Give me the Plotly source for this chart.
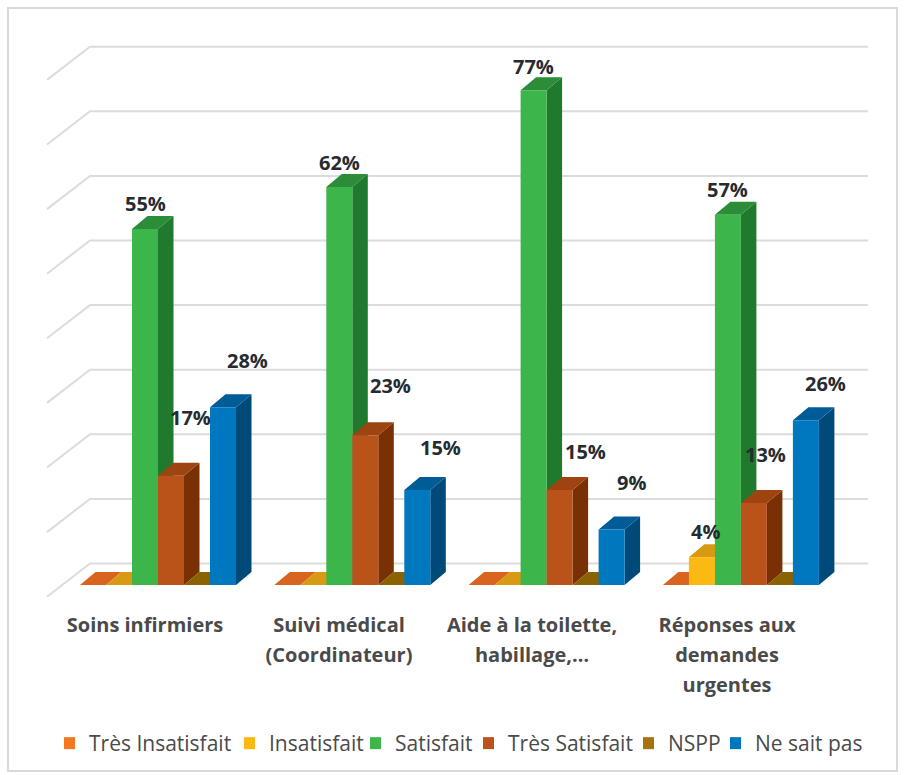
import plotly.graph_objects as go

categories = ["Soins infirmiers", "Suivi médical<br>(Coordinateur)", "Aide à la toilette,<br>habillage,…", "Réponses aux<br>demandes<br>urgentes"]
series_names = ["Très Insatisfait", "Insatisfait", "Satisfait", "Très Satisfait", "NSPP", "Ne sait pas"]
tres_insatisfait = [0, 0, 0, 0]
insatisfait = [0, 0, 0, 4.3]
satisfait = [55.1, 61.6, 76.6, 57.3]
tres_satisfait = [16.9, 23.2, 14.7, 12.7]
nspp = [0, 0, 0, 0]
ne_sait_pas = [27.5, 14.7, 8.6, 25.5]
grid_values = [0, 10, 20, 30, 40, 50, 60, 70, 80]

front_colors = ["#F47721", "#FDB913", "#3CB54A", "#B9531A", "#A5720E", "#0078BF"]
top_colors = ["#D9641F", "#D89A12", "#2D8C38", "#9E4410", "#8B6200", "#005C96"]
side_colors = ["#B04F12", "#B08008", "#1F7A2E", "#7A3005", "#6E4E00", "#004A7A"]
all_series = [tres_insatisfait, insatisfait, satisfait, tres_satisfait, nspp, ne_sait_pas]

W, H = 906, 775
PLOT_BOTTOM = 608
PX_PER_UNIT_Y = 6.46
ZERO_PX = 585
PITCH = 194.3
ORIGIN_PX = 158
BAR = 26 / PITCH
DX = 15.5 / PITCH
DY = 13 / PX_PER_UNIT_Y
LEGEND_TEXT_PX = [89, 269, 395, 508, 668, 755]


def ux(px):
    return (px - ORIGIN_PX) / PITCH


fig = go.Figure()

# gridlines (floor-to-wall perspective)
gx, gy = [], []
for v in grid_values:
    gx += [ux(47), ux(90), ux(868), None]
    gy += [v - 1.81, v + 3.33, v + 3.33, None]
fig.add_trace(go.Scatter(x=gx, y=gy, mode="lines", line=dict(color="#DCDCDC", width=2),
                         hoverinfo="skip", showlegend=False, zorder=0))

for i, (name, vals) in enumerate(zip(series_names, all_series)):
    lefts = [g + (i - 3) * BAR for g in range(len(vals))]
    sx, sy, tx, ty = [], [], [], []
    for l, v in zip(lefts, vals):
        r = l + BAR
        sx += [r, r + DX, r + DX, r, r, None]
        sy += [0, DY, v + DY, v, 0, None]
        tx += [l, r, r + DX, l + DX, l, None]
        ty += [v, v, v + DY, v + DY, v, None]
    fig.add_trace(go.Scatter(x=sx, y=sy, mode="lines", fill="toself", fillcolor=side_colors[i],
                             line=dict(width=0), hoverinfo="skip", showlegend=False, zorder=2 * i + 1))
    fig.add_trace(go.Scatter(x=tx, y=ty, mode="lines", fill="toself", fillcolor=top_colors[i],
                             line=dict(width=0), hoverinfo="skip", showlegend=False, zorder=2 * i + 1))
    fig.add_trace(go.Bar(x=[l + BAR / 2 for l in lefts], y=vals, width=BAR, name=name,
                         legend="legend" if i == 0 else f"legend{i + 1}",
                         marker=dict(color=front_colors[i], line=dict(width=0)), zorder=2 * i + 2))

# data labels: (series index, group index, xshift, yshift)
label_shifts = [
    (2, 0, 0, 26), (2, 1, 0, 25), (2, 2, 0, 24), (2, 3, 0, 25),
    (3, 0, 19, 58), (3, 1, 25, 50), (3, 2, 26, 39), (3, 3, 12, 48),
    (5, 0, 24, 47), (5, 1, 23, 43), (5, 2, 20, 47), (5, 3, 20, 37),
    (1, 3, 4, 26),
]
for s, g, xs, ys in label_shifts:
    v = all_series[s][g]
    fig.add_annotation(x=g + (s - 3) * BAR + BAR / 2, y=v, xref="x", yref="y", text=f"{v:.0f}%",
                       showarrow=False, xshift=xs, yshift=ys, xanchor="center", yanchor="middle",
                       font=dict(family="Open Sans", size=20, color="#262B30", weight="bold"))

tick_px = [145, 339, 532, 727]
ticktext = [f'<span style="font-size:20px;font-weight:bold">{c}</span>' for c in categories]
fig.update_xaxes(range=[ux(0), ux(W)], tickmode="array", tickvals=[ux(p) for p in tick_px], ticktext=ticktext,
                 showgrid=False, zeroline=False, showline=False, ticks="", ticklen=0,
                 tickfont=dict(family="Open Sans", size=23, color="#4A4A4A"), tickangle=0, fixedrange=True)
fig.update_yaxes(range=[(ZERO_PX - PLOT_BOTTOM) / PX_PER_UNIT_Y, ZERO_PX / PX_PER_UNIT_Y],
                 visible=False, fixedrange=True)

fig.add_shape(type="rect", xref="paper", yref="paper", x0=8 / W, x1=897 / W,
              y0=1 - 771 / PLOT_BOTTOM, y1=1 - 8 / PLOT_BOTTOM,
              line=dict(color="#D9D9D9", width=2), fillcolor="rgba(0,0,0,0)", layer="below")

fig.update_layout(
    width=W, height=H, margin=dict(l=0, r=0, t=0, b=H - PLOT_BOTTOM, pad=0),
    barmode="overlay", paper_bgcolor="white", plot_bgcolor="rgba(0,0,0,0)",
    font=dict(family="Open Sans", color="#4A4A4A"),
)
for i, text_px in enumerate(LEGEND_TEXT_PX):
    key = "legend" if i == 0 else f"legend{i + 1}"
    fig.update_layout({key: dict(orientation="v", x=(text_px - 25) / W, xanchor="left",
                                 y=1 - 723 / PLOT_BOTTOM, yanchor="top",
                                 font=dict(family="Open Sans", size=21, color="#4A4A4A"),
                                 indentation=-15, bgcolor="rgba(0,0,0,0)",
                                 itemclick=False, itemdoubleclick=False)})

fig.write_html("out.html", config=dict(displayModeBar=False),
               post_script="document.body.style.margin='0';document.body.style.overflow='hidden';")
